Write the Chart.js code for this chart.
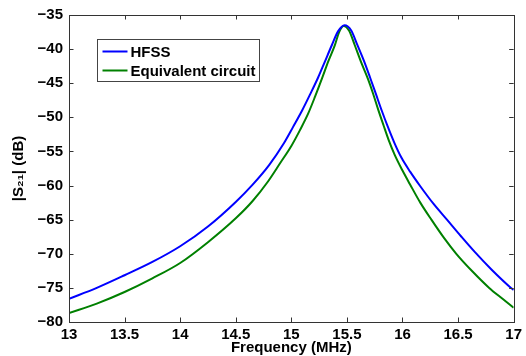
<!DOCTYPE html>
<html>
<head>
<meta charset="utf-8">
<script src="https://cdn.jsdelivr.net/npm/chart.js@4.4.1/dist/chart.umd.min.js"></script>
<style>
  html, body { margin: 0; padding: 0; background: #fff; }
  #wrap { width: 526px; height: 356px; position: relative; }
</style>
</head>
<body>
<div id="wrap"><canvas id="c" width="526" height="356"></canvas></div>
<script>
// ---- data ----
const seriesNames = ["HFSS", "Equivalent circuit"];
const freqHFSS = [13.0, 13.25, 13.5, 13.75, 14.0, 14.25, 14.5, 14.65, 14.8, 14.933, 15.016, 15.097, 15.17, 15.24, 15.30, 15.365, 15.42, 15.479,
                  15.54, 15.589, 15.655, 15.709, 15.759, 15.813, 15.866, 15.926, 15.99, 16.07, 16.16, 16.28, 16.40, 16.53, 16.654, 16.8, 16.976, 17.0];
const s21HFSS  = [-76.6, -75.0, -73.15, -71.2, -68.9, -66.0, -62.4, -59.9, -57.0, -53.8, -51.4, -49.0, -46.6, -44.2, -41.9, -39.4, -37.4, -36.5,
                  -37.3, -39.2, -41.8, -44.2, -46.5, -49.0, -51.3, -53.7, -55.9, -58.0, -60.1, -62.7, -65.0, -67.5, -69.8, -72.3, -75.0, -75.3];
const freqEC   = [13.0, 13.25, 13.5, 13.75, 14.0, 14.25, 14.5, 14.65, 14.79, 14.9, 15.0, 15.08, 15.15, 15.215, 15.276, 15.335, 15.39, 15.43, 15.47,
                  15.52, 15.57, 15.625, 15.69, 15.735, 15.78, 15.83, 15.875, 15.93, 16.0, 16.067, 16.16, 16.26, 16.37, 16.484, 16.63, 16.78, 16.9, 17.0];
const s21EC    = [-78.7, -77.3, -75.6, -73.6, -71.35, -68.3, -64.8, -62.3, -59.4, -56.7, -54.2, -51.8, -49.5, -46.9, -44.3, -41.7, -39.5, -37.5, -36.6,
                  -37.3, -39.4, -41.8, -44.4, -46.5, -48.8, -51.2, -53.3, -55.5, -57.8, -59.8, -62.5, -65.0, -67.6, -70.0, -72.6, -75.0, -76.6, -77.9];
const xTickValues = [13, 13.5, 14, 14.5, 15, 15.5, 16, 16.5, 17];
const yTickValues = [-80, -75, -70, -65, -60, -55, -50, -45, -40, -35];
const xTitle = "Frequency (MHz)";
const yTitle = "|S\u2082\u2081| (dB)";

const toPts = (xs, ys) => xs.map((x, i) => ({ x: x, y: ys[i] }));
const fmt = v => String(v).replace('-', '\u2212');
const FONT = "'Liberation Sans', Arial, Helvetica, sans-serif";

const frame = {
  id: 'frame',
  afterDraw(chart) {
    const { ctx, chartArea: a, scales } = chart;
    const L = 4.5;
    ctx.save();
    ctx.strokeStyle = '#333';
    ctx.lineWidth = 1;
    ctx.beginPath();
    xTickValues.forEach(v => {
      const p = Math.round(scales.x.getPixelForValue(v)) + 0.5;
      ctx.moveTo(p, a.bottom); ctx.lineTo(p, a.bottom - L);
      ctx.moveTo(p, a.top); ctx.lineTo(p, a.top + L);
    });
    yTickValues.forEach(v => {
      const p = Math.round(scales.y.getPixelForValue(v)) + 0.5;
      ctx.moveTo(a.left, p); ctx.lineTo(a.left + L, p);
      ctx.moveTo(a.right, p); ctx.lineTo(a.right - L, p);
    });
    ctx.stroke();
    ctx.strokeRect(Math.round(a.left) + 0.5, Math.round(a.top) + 0.5,
                   Math.round(a.right - a.left), Math.round(a.bottom - a.top));

    // legend box (inside plot, top-left)
    ctx.font = 'bold 15px ' + FONT;
    const ds = chart.data.datasets;
    const tw = Math.max(...ds.map(d => ctx.measureText(d.label).width));
    const bx = Math.round(a.left + 28) + 0.5, by = Math.round(a.top + 24) + 0.5;
    const bw = Math.round(33 + tw + 4), bh = 42;
    ctx.fillStyle = '#fff';
    ctx.fillRect(bx, by, bw, bh);
    ctx.strokeStyle = '#444';
    ctx.strokeRect(bx, by, bw, bh);
    ds.forEach((d, i) => {
      const cy = by + 12 + i * 19;
      ctx.strokeStyle = d.borderColor;
      ctx.lineWidth = 2;
      ctx.beginPath();
      ctx.moveTo(bx + 5, cy); ctx.lineTo(bx + 30, cy);
      ctx.stroke();
      ctx.fillStyle = '#000';
      ctx.textBaseline = 'middle';
      ctx.textAlign = 'left';
      ctx.fillText(d.label, bx + 33, cy + 1);
    });
    ctx.restore();
  }
};

new Chart(document.getElementById('c'), {
  type: 'line',
  data: {
    datasets: [
      { label: seriesNames[0], data: toPts(freqHFSS, s21HFSS), borderColor: '#0000ff', borderWidth: 2,
        pointRadius: 0, cubicInterpolationMode: 'monotone', fill: false },
      { label: seriesNames[1], data: toPts(freqEC, s21EC), borderColor: '#008000', borderWidth: 2,
        pointRadius: 0, cubicInterpolationMode: 'monotone', fill: false }
    ]
  },
  options: {
    responsive: false,
    animation: false,
    devicePixelRatio: 1,
    layout: { padding: { top: 14, right: 10, left: 0, bottom: 0 } },
    plugins: { legend: { display: false }, tooltip: { enabled: false } },
    scales: {
      x: {
        type: 'linear', min: 13, max: 17,
        afterBuildTicks: s => { s.ticks = xTickValues.map(v => ({ value: v })); },
        afterFit: s => { s.height = 34; },
        grid: { display: false, drawTicks: false },
        border: { display: false },
        ticks: { color: '#000', font: { family: FONT, size: 15, weight: 'bold' }, padding: 4,
                 maxRotation: 0, autoSkip: false, callback: v => fmt(v) },
        title: { display: true, text: xTitle, color: '#000', font: { family: FONT, size: 15, weight: 'bold' },
                 padding: { top: 0, bottom: -1 } }
      },
      y: {
        type: 'linear', min: -80, max: -35,
        afterBuildTicks: s => { s.ticks = yTickValues.map(v => ({ value: v })); },
        afterFit: s => { s.width = 69; },
        grid: { display: false, drawTicks: false },
        border: { display: false },
        ticks: { color: '#000', font: { family: FONT, size: 15, weight: 'bold' }, padding: 6,
                 autoSkip: false, callback: v => fmt(v) },
        title: { display: true, text: yTitle, color: '#000', font: { family: FONT, size: 15, weight: 'bold' },
                 padding: { top: 10, bottom: 0 } }
      }
    }
  },
  plugins: [frame]
});
</script>
</body>
</html>
